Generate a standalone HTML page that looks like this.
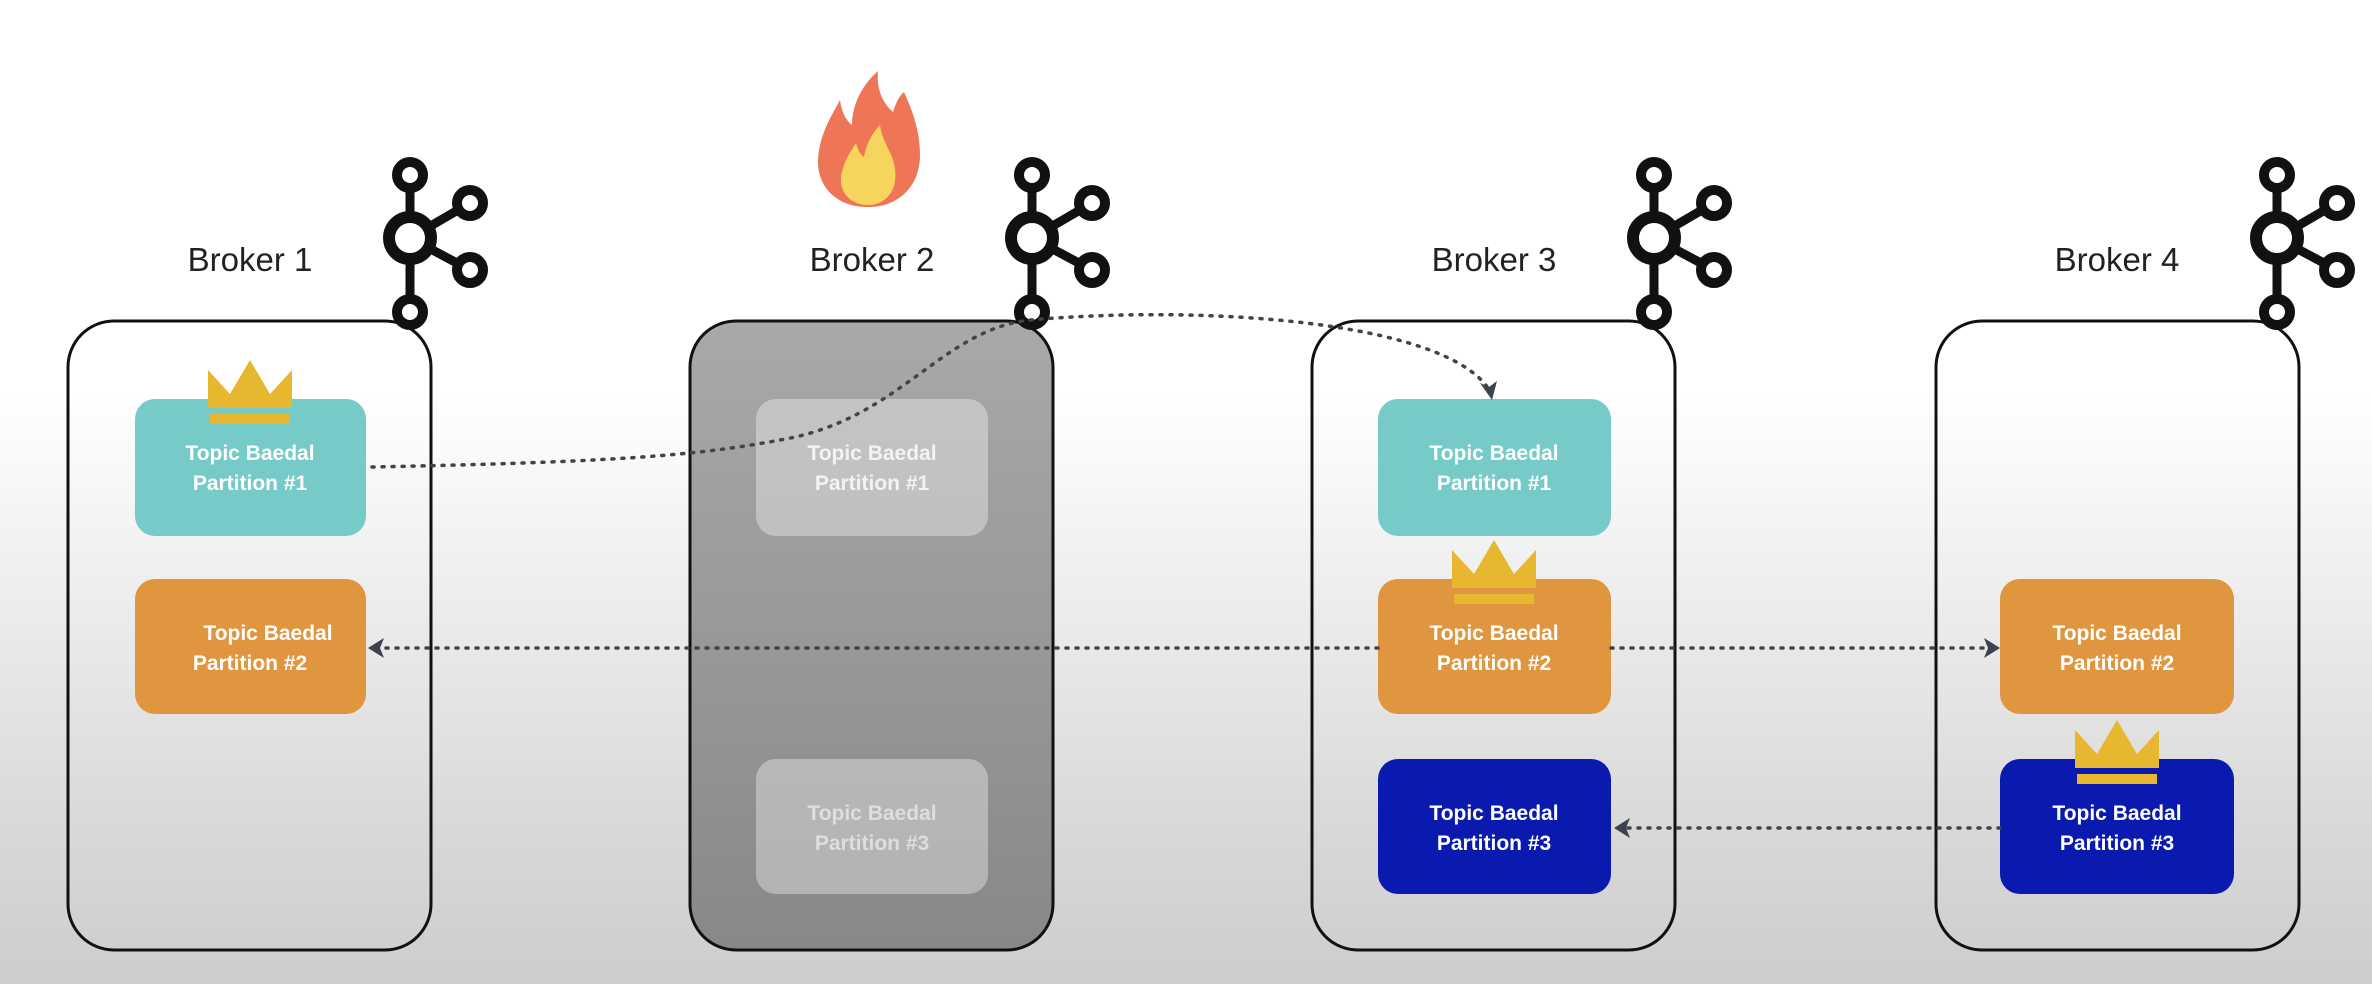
<!DOCTYPE html>
<html><head><meta charset="utf-8"><style>
html,body{margin:0;padding:0}
body{width:2372px;height:984px;overflow:hidden;background:linear-gradient(to bottom,#ffffff 0%,#ffffff 40%,#ececec 62%,#d8d8d8 85%,#cdcdcd 100%);}
svg{position:absolute;left:0;top:0}
text{font-family:"Liberation Sans",sans-serif}
</style></head><body>
<svg width="2372" height="984" viewBox="0 0 2372 984" xmlns="http://www.w3.org/2000/svg">
<defs>
<linearGradient id="g2" x1="0" y1="0" x2="0" y2="1">
<stop offset="0" stop-color="#a9a9a9"/><stop offset="1" stop-color="#888"/>
</linearGradient>
<g id="kafka" fill="none" stroke="#111">
<line x1="0" y1="0" x2="0" y2="137" stroke-width="9"/>
<line x1="0" y1="63" x2="60" y2="28" stroke-width="9"/>
<line x1="0" y1="63" x2="60" y2="95" stroke-width="9"/>
<circle cx="0" cy="0" r="13" stroke-width="10" fill="#fff"/>
<circle cx="60" cy="28" r="13" stroke-width="10" fill="#fff"/>
<circle cx="60" cy="95" r="13" stroke-width="10" fill="#fff"/>
<circle cx="0" cy="137" r="13" stroke-width="10" fill="#fff"/>
<circle cx="0" cy="63" r="21" stroke-width="12" fill="#fff"/>
</g>
<g id="crown">
<polygon points="-42,0 -42,-38 -20,-14 0,-48 20,-14 42,-38 42,0" fill="#E8B730"/>
<rect x="-40" y="6" width="80" height="10" fill="#E8B730"/>
</g>
</defs>

<rect x="68" y="321" width="363" height="629" rx="46" fill="none" stroke="#111" stroke-width="3"/>
<rect x="690" y="321" width="363" height="629" rx="46" fill="url(#g2)" stroke="#111" stroke-width="3"/>
<rect x="1312" y="321" width="363" height="629" rx="46" fill="none" stroke="#111" stroke-width="3"/>
<rect x="1936" y="321" width="363" height="629" rx="46" fill="none" stroke="#111" stroke-width="3"/>

<g font-size="33" fill="#222" text-anchor="middle">
<text x="250" y="271">Broker 1</text>
<text x="872" y="271">Broker 2</text>
<text x="1494" y="271">Broker 3</text>
<text x="2117" y="271">Broker 4</text>
</g>

<use href="#kafka" x="410" y="175"/>
<use href="#kafka" x="1032" y="175"/>
<use href="#kafka" x="1654" y="175"/>
<use href="#kafka" x="2277" y="175"/>

<path d="M868,207 C835,207 817,185 818,160 C819,135 832,115 840,100 C842,115 848,122 852,125 C852,105 862,85 878,71 C876,92 885,105 893,112 C896,102 900,95 904,92 C912,110 920,130 920,155 C920,185 900,207 868,207 Z" fill="#EE7555"/>
<path d="M868,205 C850,205 840,192 841,178 C842,165 850,152 856,143 C858,152 862,156 864,157 C866,145 872,133 880,125 C882,140 890,150 893,160 C896,170 896,178 894,186 C890,198 880,205 868,205 Z" fill="#F6D55C"/>

<g font-weight="bold" font-size="21" fill="#fff" text-anchor="middle">
<rect x="135" y="399" width="231" height="137" rx="20" fill="#76CAC8"/>
<text x="250" y="460">Topic Baedal</text><text x="250" y="490">Partition #1</text>
<rect x="135" y="579" width="231" height="135" rx="20" fill="#E0963E"/>
<text x="268" y="640">Topic Baedal</text><text x="250" y="670">Partition #2</text>
<rect x="756" y="399" width="232" height="137" rx="20" fill="#ffffff" fill-opacity="0.35"/>
<text x="872" y="460" fill-opacity="0.8">Topic Baedal</text><text x="872" y="490" fill-opacity="0.8">Partition #1</text>
<rect x="756" y="759" width="232" height="135" rx="20" fill="#ffffff" fill-opacity="0.35"/>
<text x="872" y="820" fill-opacity="0.55">Topic Baedal</text><text x="872" y="850" fill-opacity="0.55">Partition #3</text>
<rect x="1378" y="399" width="233" height="137" rx="20" fill="#76CAC8"/>
<text x="1494" y="460">Topic Baedal</text><text x="1494" y="490">Partition #1</text>
<rect x="1378" y="579" width="233" height="135" rx="20" fill="#E0963E"/>
<text x="1494" y="640">Topic Baedal</text><text x="1494" y="670">Partition #2</text>
<rect x="1378" y="759" width="233" height="135" rx="20" fill="#0B1AAE"/>
<text x="1494" y="820">Topic Baedal</text><text x="1494" y="850">Partition #3</text>
<rect x="2000" y="579" width="234" height="135" rx="20" fill="#E0963E"/>
<text x="2117" y="640">Topic Baedal</text><text x="2117" y="670">Partition #2</text>
<rect x="2000" y="759" width="234" height="135" rx="20" fill="#0B1AAE"/>
<text x="2117" y="820">Topic Baedal</text><text x="2117" y="850">Partition #3</text>
</g>

<use href="#crown" x="250" y="408"/>
<use href="#crown" x="1494" y="588"/>
<use href="#crown" x="2117" y="768"/>

<g fill="none" stroke="#444" stroke-width="3.5" stroke-dasharray="2 8" stroke-linecap="round">
<path d="M372,467 C620,462 700,455 780,440 C900,420 940,330 1030,320 C1200,305 1440,320 1488,388"/>
<line x1="1378" y1="648" x2="378" y2="648"/>
<line x1="1611" y1="648" x2="1990" y2="648"/>
<line x1="2000" y1="828" x2="1622" y2="828"/>
</g>
<g fill="#3c4250">
<polygon points="1480,383 1492,400 1497,381 1489,387"/>
<polygon points="368,648 384,638 380,648 384,658"/>
<polygon points="2000,648 1984,638 1988,648 1984,658"/>
<polygon points="1614,828 1630,818 1626,828 1630,838"/>
</g>
</svg>
</body></html>
